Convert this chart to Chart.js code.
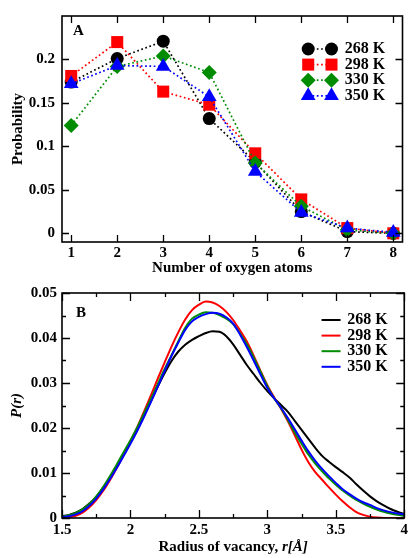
<!DOCTYPE html>
<html>
<head>
<meta charset="utf-8">
<script src="https://cdn.jsdelivr.net/npm/chart.js@4.4.1/dist/chart.umd.min.js"></script>
<style>
    html, body { margin: 0; padding: 0; background: #fff; }
    #page { position: relative; width: 411px; height: 558px; }
    .panel { position: absolute; left: 0; width: 411px; height: 279px; }
    #panelA { top: 0; }
    #panelB { top: 279px; }
</style>
</head>
<body>
<div id="page">
    <div class="panel" id="panelA"><canvas id="oxygenChart"></canvas></div>
    <div class="panel" id="panelB"><canvas id="radiusChart"></canvas></div>
</div>
<script>
// ---- data ----
const temperatures = ['268 K', '298 K', '330 K', '350 K'];

// panel A: coordination by oxygen atoms
const oxygenAtoms = [1, 2, 3, 4, 5, 6, 7, 8];
const prob268 = [0.174, 0.201, 0.221, 0.132, 0.082, 0.025, 0.002, 0.000];
const prob298 = [0.181, 0.220, 0.163, 0.148, 0.092, 0.039, 0.006, 0.000];
const prob330 = [0.124, 0.192, 0.204, 0.185, 0.081, 0.031, 0.004, 0.000];
const prob350 = [0.172, 0.193, 0.192, 0.157, 0.071, 0.024, 0.006, 0.001];
const probTicks = [0, 0.05, 0.1, 0.15, 0.2];

// panel B: vacancy radius distribution
const radii = [
    1.50, 1.55, 1.60, 1.65, 1.70, 1.75, 1.80, 1.85, 1.90, 1.95,
    2.00, 2.05, 2.10, 2.15, 2.20, 2.25, 2.30, 2.35, 2.40, 2.45,
    2.50, 2.55, 2.60, 2.65, 2.70, 2.75, 2.80, 2.85, 2.90, 2.95,
    3.00, 3.05, 3.10, 3.15, 3.20, 3.25, 3.30, 3.35, 3.40, 3.45,
    3.50, 3.55, 3.60, 3.65, 3.70, 3.75, 3.80, 3.85, 3.90, 3.95, 4.00
];
const pr268 = [
    0.0004, 0.0007, 0.0012, 0.0020, 0.0032, 0.0047, 0.0067, 0.0090, 0.0115, 0.0142,
    0.0170, 0.0199, 0.0229, 0.0260, 0.0292, 0.0322, 0.0349, 0.0370, 0.0385, 0.0396,
    0.0404, 0.0411, 0.0415, 0.0414, 0.0404, 0.0386, 0.0363, 0.0340, 0.0320, 0.0300,
    0.0282, 0.0266, 0.0251, 0.0236, 0.0216, 0.0196, 0.0176, 0.0156, 0.0138, 0.0125,
    0.0113, 0.0102, 0.0090, 0.0075, 0.0061, 0.0048, 0.0037, 0.0028, 0.0020, 0.0014, 0.0009
];
const pr298 = [
    0.0001, 0.0002, 0.0005, 0.0012, 0.0024, 0.0040, 0.0060, 0.0084, 0.0111, 0.0140,
    0.0170, 0.0202, 0.0237, 0.0273, 0.0310, 0.0346, 0.0381, 0.0413, 0.0441, 0.0462,
    0.0474, 0.0481, 0.0479, 0.0471, 0.0458, 0.0440, 0.0417, 0.0392, 0.0361, 0.0327,
    0.0295, 0.0268, 0.0243, 0.0215, 0.0184, 0.0152, 0.0124, 0.0102, 0.0085, 0.0068,
    0.0052, 0.0037, 0.0024, 0.0013, 0.0007, 0.0003, 0.0001, 0.0000, 0.0000, 0.0000, 0.0000
];
const pr330 = [
    0.0003, 0.0006, 0.0011, 0.0019, 0.0031, 0.0048, 0.0069, 0.0093, 0.0119, 0.0146,
    0.0173, 0.0202, 0.0233, 0.0265, 0.0298, 0.0331, 0.0362, 0.0393, 0.0423, 0.0443,
    0.0452, 0.0457, 0.0456, 0.0451, 0.0443, 0.0431, 0.0410, 0.0386, 0.0357, 0.0325,
    0.0293, 0.0266, 0.0244, 0.0218, 0.0190, 0.0165, 0.0141, 0.0121, 0.0104, 0.0088,
    0.0074, 0.0061, 0.0050, 0.0040, 0.0032, 0.0025, 0.0019, 0.0014, 0.0010, 0.0007, 0.0005
];
const pr350 = [
    0.0002, 0.0004, 0.0008, 0.0015, 0.0027, 0.0043, 0.0063, 0.0086, 0.0111, 0.0138,
    0.0165, 0.0194, 0.0225, 0.0258, 0.0292, 0.0327, 0.0360, 0.0390, 0.0418, 0.0437,
    0.0447, 0.0453, 0.0456, 0.0454, 0.0446, 0.0432, 0.0408, 0.0380, 0.0350, 0.0319,
    0.0289, 0.0266, 0.0245, 0.0222, 0.0197, 0.0172, 0.0148, 0.0127, 0.0109, 0.0093,
    0.0078, 0.0064, 0.0053, 0.0043, 0.0035, 0.0029, 0.0022, 0.0017, 0.0013, 0.0010, 0.0008
];
const radiusTicks = [1.5, 2, 2.5, 3, 3.5, 4];
const radiusMinor = [1.75, 2.25, 2.75, 3.25, 3.75];
const prTicks = [0, 0.01, 0.02, 0.03, 0.04, 0.05];
const prMinor = [0.005, 0.015, 0.025, 0.035, 0.045];

// ---- styles ----
const seriesColors = ['#000000', '#ff0000', '#008c00', '#0000ff'];
const markerStyles = ['circle', 'rect', 'rectRot', 'triangle'];
const markerRadii = [6.5, 8.5, 7.5, 8.5];
const FONT = "'Liberation Serif', 'DejaVu Serif', serif";
const tickFont = { family: FONT, size: 15, weight: 'bold' };
const titleFont = { family: FONT, size: 15, weight: 'bold' };

// frame, inward ticks on all four sides, panel letter and the legend box
function frameDecor(cfg) {
    return {
        id: 'frameDecor',
        afterDraw(chart) {
            const { ctx, chartArea: a } = chart;
            const xs = chart.scales.x;
            const ys = chart.scales.y;
            ctx.save();
            ctx.strokeStyle = '#000';
            ctx.lineWidth = 1.3;
            ctx.beginPath();
            const xTicks = (vals, len) => vals.forEach(v => {
                const px = Math.round(xs.getPixelForValue(v)) + 0.5;
                ctx.moveTo(px, a.bottom); ctx.lineTo(px, a.bottom - len);
                ctx.moveTo(px, a.top); ctx.lineTo(px, a.top + len);
            });
            const yTicks = (vals, len) => vals.forEach(v => {
                const py = Math.round(ys.getPixelForValue(v)) + 0.5;
                ctx.moveTo(a.left, py); ctx.lineTo(a.left + len, py);
                ctx.moveTo(a.right, py); ctx.lineTo(a.right - len, py);
            });
            xTicks(cfg.xMajor, cfg.majorLen);
            yTicks(cfg.yMajor, cfg.majorLen);
            xTicks(cfg.xMinor || [], cfg.minorLen);
            yTicks(cfg.yMinor || [], cfg.minorLen);
            ctx.stroke();

            ctx.lineWidth = 1.6;
            ctx.strokeRect(a.left, a.top, a.right - a.left, a.bottom - a.top);

            ctx.fillStyle = '#000';
            ctx.font = `bold 15px ${FONT}`;
            ctx.textAlign = 'left';
            ctx.textBaseline = 'middle';
            ctx.fillText(cfg.label, a.left + cfg.labelDx, a.top + cfg.labelDy);

            // legend
            const lg = cfg.legend;
            chart.data.datasets.forEach((ds, i) => {
                const y = a.top + lg.top + i * lg.step;
                ctx.save();
                ctx.strokeStyle = ds.borderColor;
                ctx.lineWidth = ds.borderWidth;
                ctx.setLineDash(ds.borderDash || []);
                ctx.beginPath();
                ctx.moveTo(a.right - lg.lineFrom, y);
                ctx.lineTo(a.right - lg.lineTo, y);
                ctx.stroke();
                ctx.restore();
                if (lg.markers) {
                    ctx.fillStyle = ds.pointBackgroundColor;
                    const opts = { pointStyle: ds.pointStyle, radius: ds.pointRadius, rotation: 0, borderWidth: 0 };
                    Chart.helpers.drawPoint(ctx, opts, a.right - lg.lineFrom, y);
                    Chart.helpers.drawPoint(ctx, opts, a.right - lg.lineTo, y);
                }
                ctx.fillStyle = '#000';
                ctx.font = `bold 16px ${FONT}`;
                ctx.textAlign = 'left';
                ctx.textBaseline = 'middle';
                ctx.fillText(ds.label, a.right - lg.textAt, y);
            });

            // axis title with an italic part
            if (cfg.xTitleParts) {
                const fonts = cfg.xTitleParts.map(p => `${p.italic ? 'italic ' : ''}bold 15px ${FONT}`);
                const widths = cfg.xTitleParts.map((p, i) => { ctx.font = fonts[i]; return ctx.measureText(p.text).width; });
                let x = (a.left + a.right) / 2 - widths.reduce((s, w) => s + w, 0) / 2;
                cfg.xTitleParts.forEach((p, i) => {
                    ctx.font = fonts[i];
                    ctx.fillText(p.text, x, a.bottom + cfg.xTitleDy);
                    x += widths[i];
                });
            }
            ctx.restore();
        }
    };
}

function baseOptions() {
    return {
        responsive: true,
        maintainAspectRatio: false,
        animation: false,
        events: [],
        plugins: { legend: { display: false }, tooltip: { enabled: false } },
    };
}

function renderOxygenChart() {
    const series = [prob268, prob298, prob330, prob350];
    const datasets = series.map((vals, i) => ({
        label: temperatures[i],
        data: oxygenAtoms.map((n, k) => ({ x: n, y: vals[k] })),
        borderColor: seriesColors[i],
        backgroundColor: seriesColors[i],
        borderWidth: 1.7,
        borderDash: [1.7, 2.6],
        pointStyle: markerStyles[i],
        pointRadius: markerRadii[i],
        pointBackgroundColor: seriesColors[i],
        pointBorderWidth: 0,
        fill: false,
        tension: 0,
        clip: false,
        order: 3 - i,
    }));
    new Chart(document.getElementById('oxygenChart'), {
        type: 'line',
        data: { datasets },
        options: {
            ...baseOptions(),
            layout: { padding: { top: 12, right: 4, left: 0, bottom: 0 } },
            scales: {
                x: {
                    type: 'linear', min: 0.8, max: 8.2,
                    grid: { display: false, drawTicks: false },
                    border: { display: false },
                    afterBuildTicks: s => { s.ticks = oxygenAtoms.map(v => ({ value: v })); },
                    afterFit: s => { s.height = 37; },
                    ticks: { font: tickFont, color: '#000', padding: 2, autoSkip: false, maxRotation: 0, callback: v => String(v) },
                    title: { display: true, text: 'Number of oxygen atoms', font: titleFont, color: '#000', padding: { top: 0, bottom: 1.5 } },
                },
                y: {
                    type: 'linear', min: -0.01, max: 0.25,
                    grid: { display: false, drawTicks: false },
                    border: { display: false },
                    afterBuildTicks: s => { s.ticks = probTicks.map(v => ({ value: v })); },
                    afterFit: s => { s.width = 62; },
                    ticks: { font: tickFont, color: '#000', padding: 7, autoSkip: false, callback: v => String(v) },
                    title: { display: true, text: 'Probability', font: titleFont, color: '#000', padding: { top: 9.5, bottom: 0 } },
                },
            },
        },
        plugins: [frameDecor({
            label: 'A', labelDx: 11, labelDy: 15,
            xMajor: oxygenAtoms, yMajor: probTicks, majorLen: 7, minorLen: 4,
            legend: { markers: true, top: 33, step: 15.6, lineFrom: 94.3, lineTo: 71, textAt: 57.7 },
        })],
    });
}

function renderRadiusChart() {
    const series = [pr268, pr298, pr330, pr350];
    const datasets = series.map((vals, i) => ({
        label: temperatures[i],
        data: radii.map((r, k) => ({ x: r, y: vals[k] })),
        borderColor: seriesColors[i],
        backgroundColor: seriesColors[i],
        borderWidth: 2,
        pointRadius: 0,
        fill: false,
        cubicInterpolationMode: 'monotone',
        order: 3 - i,
    }));
    new Chart(document.getElementById('radiusChart'), {
        type: 'line',
        data: { datasets },
        options: {
            ...baseOptions(),
            layout: { padding: { top: 10, right: 4, left: 0, bottom: 0 } },
            scales: {
                x: {
                    type: 'linear', min: 1.5, max: 4,
                    grid: { display: false, drawTicks: false },
                    border: { display: false },
                    afterBuildTicks: s => { s.ticks = radiusTicks.map(v => ({ value: v })); },
                    afterFit: s => { s.height = 40; },
                    ticks: { font: tickFont, color: '#000', padding: 3, autoSkip: false, maxRotation: 0, callback: v => String(v) },
                },
                y: {
                    type: 'linear', min: 0, max: 0.05,
                    grid: { display: false, drawTicks: false },
                    border: { display: false },
                    afterBuildTicks: s => { s.ticks = prTicks.map(v => ({ value: v })); },
                    afterFit: s => { s.width = 62; },
                    ticks: { font: tickFont, color: '#000', padding: 5, autoSkip: false, callback: v => String(v) },
                    title: { display: true, text: 'P(r)', font: { ...titleFont, style: 'italic' }, color: '#000', padding: { top: 8, bottom: 0 } },
                },
            },
        },
        plugins: [frameDecor({
            label: 'B', labelDx: 14, labelDy: 20,
            xMajor: radiusTicks, xMinor: radiusMinor, yMajor: prTicks, yMinor: prMinor, majorLen: 8, minorLen: 4,
            legend: { markers: false, top: 27, step: 15.6, lineFrom: 82.7, lineTo: 63.7, textAt: 57 },
            xTitleParts: [{ text: 'Radius of vacancy, ', italic: false }, { text: 'r[Å]', italic: true }],
            xTitleDy: 29,
        })],
    });
}

renderOxygenChart();
renderRadiusChart();
</script>
</body>
</html>
